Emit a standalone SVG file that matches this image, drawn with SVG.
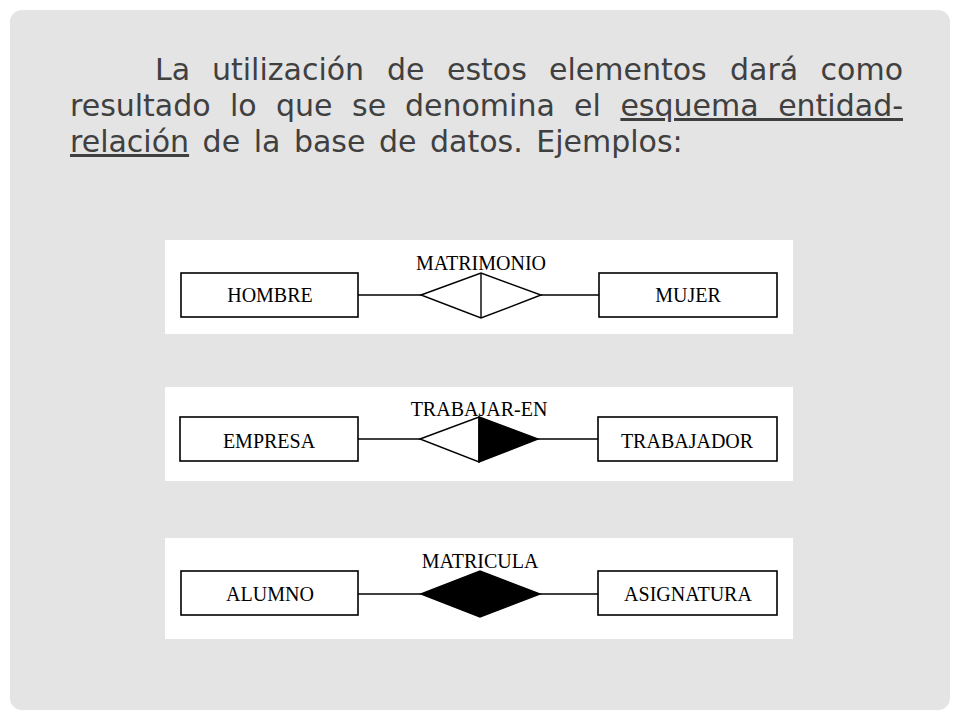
<svg xmlns="http://www.w3.org/2000/svg" width="960" height="720" viewBox="0 0 960 720">
<style>
.title{font-family:"DejaVu Sans","Liberation Sans",sans-serif;font-size:30px;fill:#404040}
.end{text-anchor:end}
.lbl{font-family:"Liberation Serif","DejaVu Serif",serif;font-size:20px;fill:#000;text-anchor:middle}
.box{fill:#fff;stroke:#000;stroke-width:1.6}
.panel{fill:#fff}
.edge{stroke:#000;stroke-width:1.6;fill:none}
.dia{stroke:#000;stroke-width:1.4}
</style>
<rect x="0" y="0" width="960" height="720" fill="#fff"/>
<rect x="10" y="10" width="940" height="700" rx="12" fill="#e4e4e4"/>
<g id="title">
<text class="title" x="155" y="80">La</text>
<text class="title" x="212" y="80">utilización</text>
<text class="title" x="387" y="80">de</text>
<text class="title" x="447" y="80">estos</text>
<text class="title" x="549" y="80">elementos</text>
<text class="title" x="730" y="80">dará</text>
<text class="title end" x="903" y="80">como</text>
<text class="title" x="70" y="116">resultado</text>
<text class="title" x="230" y="116">lo</text>
<text class="title" x="276" y="116">que</text>
<text class="title" x="352" y="116">se</text>
<text class="title" x="405" y="116">denomina</text>
<text class="title" x="574" y="116">el</text>
<text class="title end" x="903" y="116" word-spacing="10" text-decoration="underline">esquema entidad-</text>
<text class="title" x="70" y="152" word-spacing="4"><tspan text-decoration="underline">relación</tspan> de la base de datos. Ejemplos:</text>
</g>
<rect class="panel" x="165" y="240" width="628" height="94"/>
<rect class="panel" x="165" y="387" width="628" height="94"/>
<rect class="panel" x="165" y="538" width="628" height="101"/>
<g id="connectors">
<line class="edge" x1="358" y1="295" x2="421" y2="295"/>
<line class="edge" x1="541" y1="295" x2="599" y2="295"/>
<line class="edge" x1="358" y1="439" x2="420" y2="439"/>
<line class="edge" x1="538" y1="439" x2="598" y2="439"/>
<line class="edge" x1="358" y1="594" x2="421" y2="594"/>
<line class="edge" x1="540" y1="594" x2="598" y2="594"/>
</g>
<g id="hombre"><rect class="box" x="181" y="273" width="177" height="44"/><text class="lbl" x="270" y="302">HOMBRE</text></g>
<g id="mujer"><rect class="box" x="599" y="273" width="178" height="44"/><text class="lbl" x="688" y="302">MUJER</text></g>
<g id="matrimonio">
<polygon class="dia" points="421,295 481,273 541,295 481,318" fill="#fff"/>
<line class="dia" x1="481" y1="273" x2="481" y2="318"/>
<text class="lbl" x="481" y="270">MATRIMONIO</text>
</g>
<g id="empresa"><rect class="box" x="180" y="417" width="178" height="44"/><text class="lbl" x="269" y="448">EMPRESA</text></g>
<g id="trabajador"><rect class="box" x="598" y="417" width="179" height="44"/><text class="lbl" x="687" y="448">TRABAJADOR</text></g>
<g id="trabajar-en">
<polygon class="dia" points="420,439 479,417 479,462" fill="#fff"/>
<polygon class="dia" points="479,417 538,439 479,462" fill="#000"/>
<text class="lbl" x="479" y="416">TRABAJAR-EN</text>
</g>
<g id="alumno"><rect class="box" x="181" y="571" width="177" height="44"/><text class="lbl" x="270" y="601">ALUMNO</text></g>
<g id="asignatura"><rect class="box" x="598" y="571" width="179" height="44"/><text class="lbl" x="688" y="601">ASIGNATURA</text></g>
<g id="matricula">
<polygon class="dia" points="421,594 480,571 540,594 480,617" fill="#000"/>
<text class="lbl" x="480" y="568">MATRICULA</text>
</g>
</svg>
